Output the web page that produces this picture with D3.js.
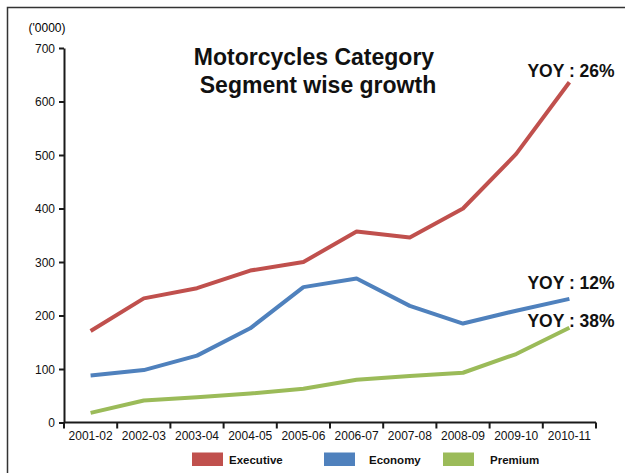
<!DOCTYPE html>
<html lang="en">
<head>
<meta charset="UTF-8">
<title>Motorcycles Category Segment wise growth</title>
<script src="https://d3js.org/d3.v7.min.js"></script>
<style>
    body { margin: 0; background: #fff; }
    svg { display: block; font-family: "Liberation Sans", Arial, Helvetica, sans-serif; }
    .axis path, .axis line { stroke: #1a1a1a; stroke-width: 2; }
    .axis text { font-size: 12px; fill: #111; }
    .series { fill: none; stroke-width: 4; stroke-linejoin: round; }
</style>
</head>
<body>
<svg id="chart" width="625" height="473"></svg>
<script>
    // data (units of '0000)
    const years = ["2001-02", "2002-03", "2003-04", "2004-05", "2005-06",
                   "2006-07", "2007-08", "2008-09", "2009-10", "2010-11"];
    const executive = [171, 232, 251, 284, 300, 357, 346, 400, 502, 636];
    const economy   = [88, 98, 125, 176, 253, 269, 218, 185, 209, 231];
    const premium   = [18, 41, 47, 54, 63, 80, 87, 93, 128, 177];
    const seriesNames = ["Executive", "Economy", "Premium"];
    const seriesColors = ["#c0504d", "#4f81bd", "#9bbb59"];
    const yoyLabels = ["YOY : 26%", "YOY : 12%", "YOY : 38%"];
    const yTicks = [0, 100, 200, 300, 400, 500, 600, 700];

    const svg = d3.select("#chart");

    // outer frame (top and left edges only)
    svg.append("path")
        .attr("d", "M7.5,473 L7.5,7.5 L625,7.5")
        .attr("fill", "none")
        .attr("stroke", "#333")
        .attr("stroke-width", 1.5);

    const x = d3.scaleBand().domain(years).range([64, 596]);
    const y = d3.scaleLinear().domain([0, 700]).range([422.5, 48]);

    // y axis
    svg.append("g")
        .attr("class", "axis")
        .attr("transform", "translate(64,0)")
        .call(d3.axisLeft(y).tickValues(yTicks).tickSize(5).tickSizeOuter(0).tickPadding(4))
        .call(g => g.selectAll("text").attr("dy", "0.35em"));

    // x axis, ticks at band edges
    const xa = svg.append("g")
        .attr("class", "axis")
        .attr("transform", "translate(0,422.5)")
        .call(d3.axisBottom(x).tickSize(0).tickPadding(9));
    xa.select(".domain").attr("d", "M64,0H596");
    xa.selectAll(".edge")
        .data(d3.range(years.length + 1))
        .join("line")
        .attr("class", "edge")
        .attr("x1", i => 64 + i * x.step())
        .attr("x2", i => 64 + i * x.step())
        .attr("y1", 0)
        .attr("y2", 6);

    svg.append("text")
        .attr("x", 47).attr("y", 32)
        .attr("text-anchor", "middle")
        .attr("font-size", 12)
        .text("('0000)");

    // lines
    const line = d3.line()
        .x((d, i) => x(years[i]) + x.bandwidth() / 2)
        .y(d => y(d));

    [executive, economy, premium].forEach((vals, k) => {
        svg.append("path")
            .attr("class", "series")
            .attr("stroke", seriesColors[k])
            .attr("d", line(vals));
    });

    // title
    const title = svg.append("text")
        .attr("text-anchor", "middle")
        .attr("font-size", 23)
        .attr("font-weight", "bold")
        .attr("fill", "#111");
    title.append("tspan").attr("x", 314).attr("y", 65).text("Motorcycles Category");
    title.append("tspan").attr("x", 318).attr("y", 93).text("Segment wise growth");

    // YOY annotations
    const yoyY = [77, 289, 327];
    yoyLabels.forEach((t, k) => {
        svg.append("text")
            .attr("x", 571).attr("y", yoyY[k])
            .attr("text-anchor", "middle")
            .attr("font-size", 17.5)
            .attr("font-weight", "bold")
            .attr("fill", "#111")
            .text(t);
    });

    // legend
    const legendX = [192, 324, 443];
    const legendTextX = [229, 369, 490];
    seriesNames.forEach((n, k) => {
        svg.append("rect")
            .attr("x", legendX[k]).attr("y", 452.5)
            .attr("width", 31).attr("height", 13.5)
            .attr("fill", seriesColors[k]);
        svg.append("text")
            .attr("x", legendTextX[k]).attr("y", 464)
            .attr("font-size", 11.5)
            .attr("font-weight", "bold")
            .attr("fill", "#111")
            .text(n);
    });
</script>
</body>
</html>
